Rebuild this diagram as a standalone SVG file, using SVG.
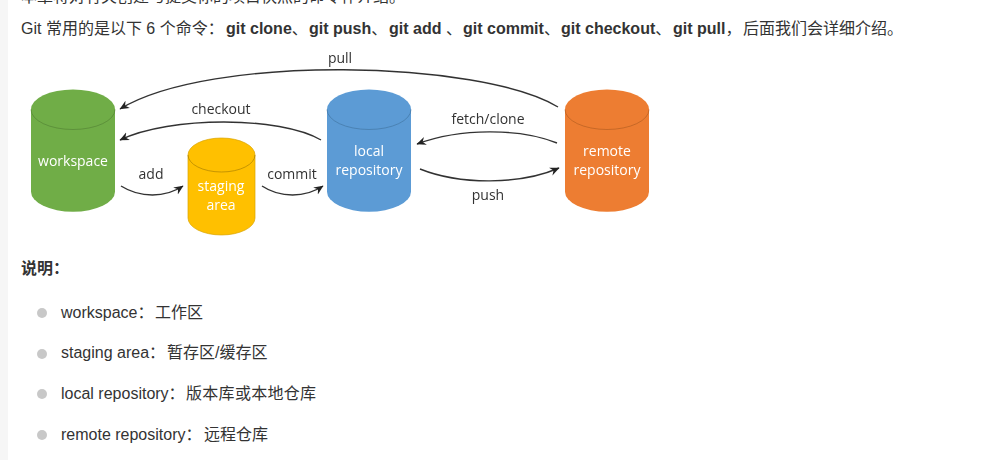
<svg xmlns="http://www.w3.org/2000/svg" width="982" height="460" viewBox="0 0 982 460">
<defs>
<marker id="a" viewBox="0 0 10 10" refX="9" refY="5" markerWidth="10" markerHeight="10" markerUnits="userSpaceOnUse" orient="auto"><path d="M0 .8 L9.500 5 L0 9.200 L3 5 Z" fill="#222"/></marker>
<filter id="s" x="-5%" y="-5%" width="110%" height="110%"><feGaussianBlur stdDeviation=".35"/></filter>
</defs>
<style>
.p{font:16px "Liberation Sans","Noto Sans CJK SC",sans-serif;fill:#333}
.b{font-weight:700}
.w{font:14px "Open Sans","Noto Sans",sans-serif;fill:#fff;text-anchor:middle}
.t{font:14px "Open Sans","Noto Sans",sans-serif;fill:#333;text-anchor:middle}
.c{fill:none;stroke:#333;stroke-width:1.4;marker-end:url(#a)}
.d{fill:#c8c8c8}
.r{fill:none;stroke-opacity:.6;stroke-width:1}
.z{letter-spacing:.3px}
</style>
<rect width="982" height="460" fill="#fff"/>
<rect width="8" height="460" fill="#f6f6f6"/>
<text class="p" x="21" y="1.500">本章将对有关创建与提交你的项目快照的命令作介绍。</text>
<text class="p" x="21" y="34">Git 常用的是以下 6 个命令：<tspan class="b" x="226">git clone</tspan>、<tspan class="b" x="309">git push</tspan>、<tspan class="b" x="389">git add</tspan> 、<tspan class="b" x="463">git commit</tspan>、<tspan class="b" x="561">git checkout</tspan>、<tspan class="b" x="673">git pull</tspan>，<tspan x="743">后面我们会详细介绍。</tspan></text>
<g filter="url(#s)">
<g id="connectors">
<path class="c" d="M558 107 C480 60 210 54 120 109"/>
<path class="c" d="M321 140 C280 116 170 116 120 140"/>
<path class="c" d="M121 186 C140 198 165 198 183 186"/>
<path class="c" d="M262 186 C280 198 305 198 323 186"/>
<path class="c" d="M557 143 C520 128 460 128 417 144"/>
<path class="c" d="M420 169 C460 185 520 185 559 168"/>
</g>
<g id="workspace"><path d="M31 109.500 A42 20 0 0 1 115 109.500 V191.700 A42 20 0 0 1 31 191.700 Z" fill="#70ad47"/><path class="r" d="M31 109.500 A42 20 0 0 0 115 109.500" stroke="#507e32"/><text class="w" x="73" y="166">workspace</text></g>
<g id="staging"><path d="M188 155 A33.500 17 0 0 1 255 155 V218 A33.500 17 0 0 1 188 218 Z" fill="#ffc000" stroke="#d9a300" stroke-width=".7"/><path class="r" d="M188 155 A33.500 17 0 0 0 255 155" stroke="#a07800"/><text class="w" x="221" y="191">staging</text><text class="w" x="221" y="210">area</text></g>
<g id="local"><path d="M327 109.500 A42 20 0 0 1 411 109.500 V191.700 A42 20 0 0 1 327 191.700 Z" fill="#5b9bd5"/><path class="r" d="M327 109.500 A42 20 0 0 0 411 109.500" stroke="#41719c"/><text class="w" x="369" y="156">local</text><text class="w" x="369" y="175">repository</text></g>
<g id="remote"><path d="M565 109.500 A42 20 0 0 1 649 109.500 V191.700 A42 20 0 0 1 565 191.700 Z" fill="#ed7d31"/><path class="r" d="M565 109.500 A42 20 0 0 0 649 109.500" stroke="#ae5a21"/><text class="w" x="607" y="156">remote</text><text class="w" x="607" y="175">repository</text></g>
<g id="labels">
<text class="t" x="340" y="63">pull</text>
<text class="t" x="221" y="114">checkout</text>
<text class="t" x="151" y="179">add</text>
<text class="t" x="292" y="179">commit</text>
<text class="t" x="488" y="124">fetch/clone</text>
<text class="t" x="488" y="200">push</text>
</g>
</g>
<text class="p b" x="21" y="274">说明：</text>
<circle class="d" cx="42" cy="313" r="5"/><text class="p" x="61" y="318">workspace：<tspan x="155">工作区</tspan></text>
<circle class="d" cx="42" cy="354" r="5"/><text class="p" x="61" y="358">staging area：<tspan x="167">暂存区/缓存区</tspan></text>
<circle class="d" cx="42" cy="394" r="5"/><text class="p" x="61" y="399">local repository：<tspan class="z" x="186">版本库或本地仓库</tspan></text>
<circle class="d" cx="42" cy="435" r="5"/><text class="p" x="61" y="440">remote repository：<tspan x="204">远程仓库</tspan></text>
</svg>
